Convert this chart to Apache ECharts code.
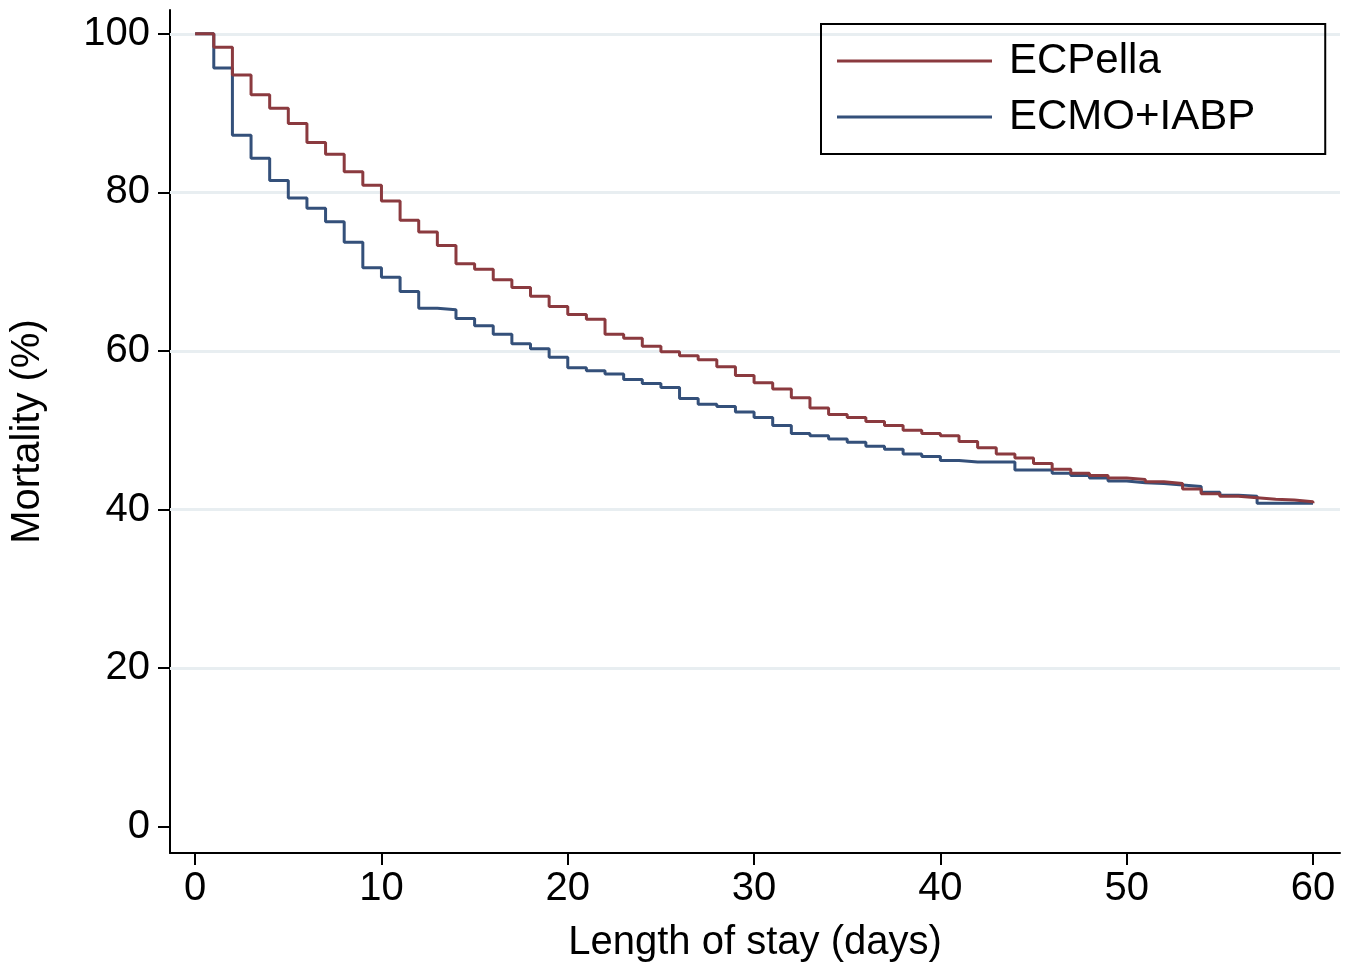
<!DOCTYPE html>
<html>
<head>
<meta charset="utf-8">
<script src="https://cdn.jsdelivr.net/npm/echarts@6/dist/echarts.min.js"></script>
<style>html,body{margin:0;padding:0;background:#fff}#chart{width:1355px;height:973px}</style>
</head>
<body>
<div id="chart"></div>
<script>
'use strict'

var days = [];
for (var i = 0; i <= 60; i++) days.push(i);

var ecpella = [100, 98.3, 94.8, 92.3, 90.6, 88.7, 86.3, 84.8, 82.6, 80.9, 78.9, 76.5, 75.0, 73.3, 71.0, 70.3,
    69.0, 68.0, 66.9, 65.6, 64.6, 64.0, 62.1, 61.6, 60.6, 59.9, 59.4, 58.9, 58.0, 56.9, 56.0, 55.2, 54.1,
    52.8, 52.0, 51.6, 51.1, 50.6, 50.0, 49.6, 49.3, 48.6, 47.8, 47.0, 46.5, 45.8, 45.1, 44.6, 44.3, 44.0,
    43.8, 43.5, 43.3, 42.6, 42.0, 41.7, 41.5, 41.3, 41.2, 41.0, 40.8];
var ecmoIabp = [100, 95.7, 87.2, 84.3, 81.5, 79.3, 78.0, 76.3, 73.7, 70.5, 69.3, 67.5, 65.4, 65.2, 64.1, 63.2,
    62.1, 60.9, 60.3, 59.2, 57.9, 57.5, 57.1, 56.4, 55.9, 55.4, 54.0, 53.3, 53.0, 52.3, 51.6, 50.6, 49.6,
    49.3, 48.9, 48.5, 48.0, 47.6, 47.0, 46.7, 46.2, 46.0, 46.0, 46.0, 45.0, 45.0, 44.6, 44.3, 44.0, 43.6,
    43.4, 43.3, 43.1, 42.9, 42.2, 41.8, 41.7, 40.8, 40.8, 40.8, 40.8];
var xTicks = [0, 10, 20, 30, 40, 50, 60];
var yTicks = [0, 20, 40, 60, 80, 100];

function pairs(v) {
    return days.map(function (d, i) { return [d, v[i]]; });
}

var myChart = echarts.init(document.getElementById('chart'));
var font = 'Liberation Sans';
var option = {
    animation: false,
    textStyle: { fontFamily: font },
    grid: { left: 170, right: 15, top: 10, bottom: 120, outerBoundsMode: 'none', containLabel: false },
    legend: {
        orient: 'vertical',
        left: 821, top: 24,
        padding: [16, 70, 16, 16],
        itemGap: 14,
        itemWidth: 155,
        itemHeight: 3,
        icon: 'rect',
        borderColor: '#000', borderWidth: 2,
        textStyle: { fontSize: 42, color: '#000', fontFamily: font, padding: [0, 0, 0, 12] },
        data: ['ECPella', 'ECMO+IABP']
    },
    xAxis: {
        type: 'value', min: -1.35, max: 61.45,
        name: 'Length of stay (days)', nameLocation: 'middle', nameGap: 70,
        nameTextStyle: { fontSize: 40, color: '#000' },
        axisLine: { onZero: false, lineStyle: { color: '#000', width: 2 } },
        axisTick: { show: true, length: 12, customValues: xTicks, lineStyle: { color: '#000', width: 2 } },
        axisLabel: { customValues: xTicks, fontSize: 40, color: '#000', margin: 16 },
        splitLine: { show: false }
    },
    yAxis: {
        type: 'value', min: -3.3, max: 103,
        name: 'Mortality (%)', nameLocation: 'middle', nameGap: 122,
        nameTextStyle: { fontSize: 40, color: '#000' },
        axisLine: { show: true, onZero: false, lineStyle: { color: '#000', width: 2 } },
        axisTick: { show: true, length: 12, customValues: yTicks, lineStyle: { color: '#000', width: 2 } },
        axisLabel: { customValues: yTicks, fontSize: 40, color: '#000', margin: 20 },
        splitLine: { show: false }
    },
    series: [{
        name: 'ECPella', type: 'line', step: 'end', symbol: 'none',
        color: '#8b3a3f', lineStyle: { width: 3, color: '#8b3a3f' },
        data: pairs(ecpella), z: 3
    }, {
        name: 'ECMO+IABP', type: 'line', step: 'end', symbol: 'none',
        color: '#34507a', lineStyle: { width: 3, color: '#34507a' },
        data: pairs(ecmoIabp), z: 2,
        markLine: {
            silent: true, symbol: 'none', label: { show: false },
            lineStyle: { color: '#e8eef1', width: 3, type: 'solid' },
            z: 1,
            data: yTicks.filter(function (t) { return t > 0; }).map(function (t) { return { yAxis: t }; })
        }
    }]
};
myChart.setOption(option);
</script>
</body>
</html>
